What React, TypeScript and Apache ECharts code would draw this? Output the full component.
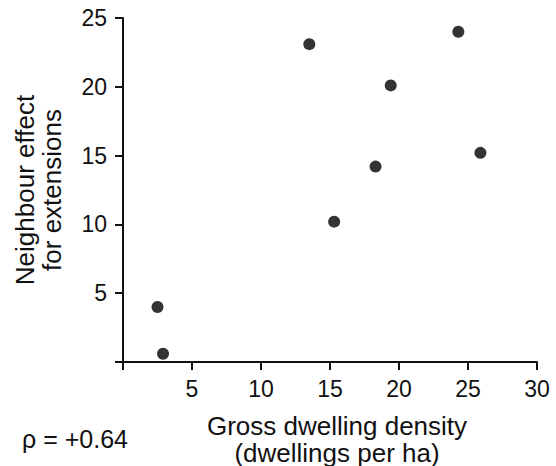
import React, { useEffect, useRef } from "react";
import * as echarts from "echarts";

const density = [2.5, 2.9, 13.5, 15.3, 18.3, 19.4, 24.3, 25.9];
const neighbourEffect = [4.0, 0.6, 23.1, 10.2, 14.2, 20.1, 24.0, 15.2];
const xTicks = [0, 5, 10, 15, 20, 25, 30];
const yTicks = [0, 5, 10, 15, 20, 25];
const xTitle = "Gross dwelling density\n(dwellings per ha)";
const yTitle = "Neighbour effect\nfor extensions";
const rhoText = "ρ = +0.64";

const FONT = '"Liberation Sans", Arial, Helvetica, sans-serif';

export default function App() {
  const ref = useRef<HTMLDivElement>(null);
  useEffect(() => {
    document.body.style.margin = "0";
    document.body.style.overflow = "hidden";
    if (!ref.current) return;
    const chart = echarts.init(ref.current, undefined, { renderer: "svg" });
    const points = density.map((d, i) => [d, neighbourEffect[i]]);
    chart.setOption({
      animation: false,
      backgroundColor: "#ffffff",
      grid: { left: 123, right: 19, top: 18, bottom: 104, containLabel: false },
      xAxis: {
        type: "value",
        min: xTicks[0],
        max: xTicks[xTicks.length - 1],
        interval: 5,
        splitLine: { show: false },
        axisLine: { show: true, onZero: false, lineStyle: { color: "#111111", width: 2 } },
        axisTick: { show: true, inside: false, length: 8, lineStyle: { color: "#111111", width: 2 } },
        axisLabel: {
          margin: 15,
          fontSize: 23,
          color: "#111111",
          fontFamily: FONT,
          formatter: (v: number) => (v === 0 ? "" : String(v)),
        },
      },
      yAxis: {
        type: "value",
        min: yTicks[0],
        max: yTicks[yTicks.length - 1],
        interval: 5,
        splitLine: { show: false },
        axisLine: { show: true, onZero: false, lineStyle: { color: "#111111", width: 2 } },
        axisTick: { show: true, inside: false, length: 8, lineStyle: { color: "#111111", width: 2 } },
        axisLabel: {
          margin: 16,
          fontSize: 23,
          color: "#111111",
          fontFamily: FONT,
          formatter: (v: number) => (v === 0 ? "" : String(v)),
        },
      },
      series: [
        {
          type: "scatter",
          data: points,
          symbol: "circle",
          symbolSize: 12,
          itemStyle: { color: "#000000" },
        },
      ],
      graphic: [
        {
          type: "text",
          x: 38,
          y: 190,
          rotation: Math.PI / 2,
          style: {
            text: yTitle,
            font: `26px ${FONT}`,
            fill: "#111111",
            textAlign: "center",
            textVerticalAlign: "middle",
            align: "center",
            verticalAlign: "middle",
            lineHeight: 27,
          },
        },
        {
          type: "text",
          x: 337,
          y: 439,
          style: {
            text: xTitle,
            font: `26px ${FONT}`,
            fill: "#111111",
            textAlign: "center",
            textVerticalAlign: "middle",
            align: "center",
            verticalAlign: "middle",
            lineHeight: 27,
          },
        },
        {
          type: "text",
          x: 22,
          y: 439,
          style: {
            text: rhoText,
            font: `25px ${FONT}`,
            fill: "#111111",
            textAlign: "left",
            textVerticalAlign: "middle",
            align: "left",
            verticalAlign: "middle",
          },
        },
      ],
    });
    return () => chart.dispose();
  }, []);
  return <div ref={ref} style={{ width: 556, height: 466 }} />;
}
